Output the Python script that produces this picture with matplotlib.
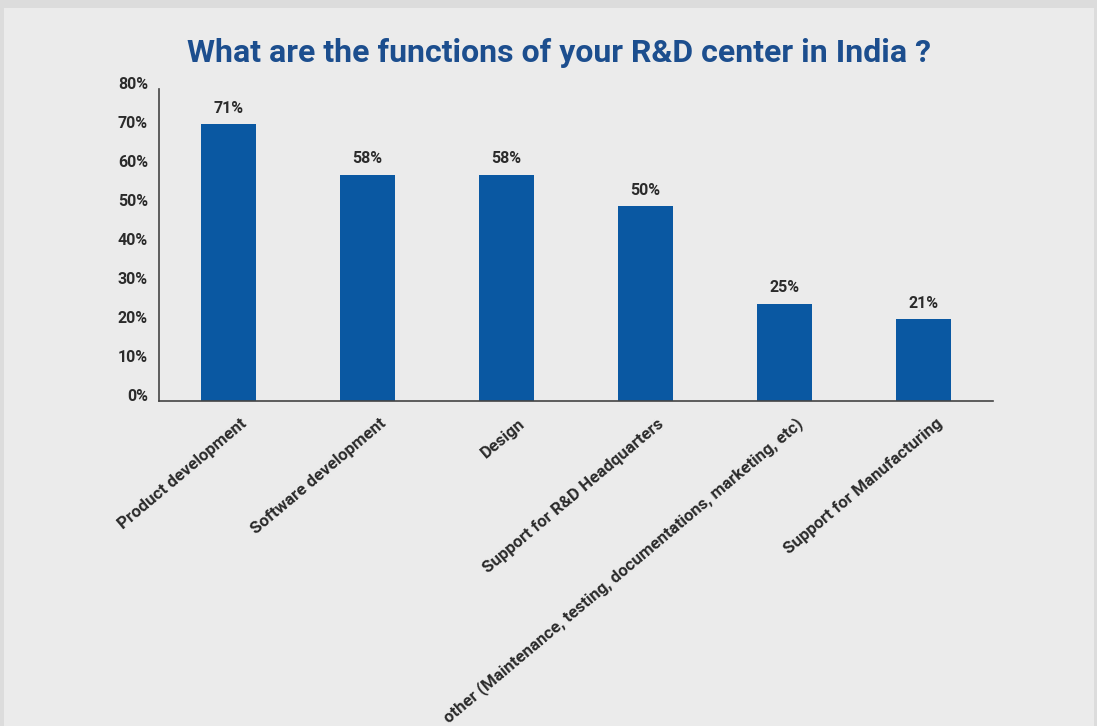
import matplotlib
matplotlib.use("Agg")
import matplotlib.pyplot as plt
from matplotlib.transforms import ScaledTranslation
from matplotlib.patches import Rectangle

categories = [
    "Product development",
    "Software development",
    "Design",
    "Support for R&D Headquarters",
    "other (Maintenance, testing, documentations, marketing, etc)",
    "Support for Manufacturing",
]
values = [71, 58, 58, 50, 25, 21]
y_ticks = [0, 10, 20, 30, 40, 50, 60, 70, 80]
title = "What are the functions of your R&D center in India ?"

BAR = "#0A58A2"
TITLE = "#1C4E8E"
TEXT = "#2B2B2B"
FONT = ["Roboto", "DejaVu Sans"]

W, H = 1097, 726
fig = plt.figure(figsize=(W / 100, H / 100), dpi=100)
fig.patch.set_facecolor("#DCDCDC")

# light panel behind the chart
fig.add_artist(Rectangle((4 / W, 0), 1 - 7 / W, 1 - 8 / H, transform=fig.transFigure,
                         facecolor="#EBEBEB", edgecolor="none", zorder=0))

left, right, top, bottom = 159, 993, 89, 401
ax = fig.add_axes([left / W, 1 - bottom / H, (right - left) / W, (bottom - top) / H])
ax.set_facecolor("none")

x = list(range(len(categories)))
bars = ax.bar(x, values, width=0.4, color=BAR, zorder=2)
ax.set_xlim(-0.5, len(categories) - 0.5)
ax.set_ylim(0, 80)

for rect, v in zip(bars, values):
    ax.annotate(f"{v}%", (rect.get_x() + rect.get_width() / 2, v),
                xytext=(0, 6), textcoords="offset points", ha="center", va="bottom",
                fontsize=11.5, fontweight="bold", color=TEXT, family=FONT)

for side in ("top", "right"):
    ax.spines[side].set_visible(False)
for side in ("left", "bottom"):
    ax.spines[side].set_color("#444444")
    ax.spines[side].set_linewidth(1.2)

ax.set_yticks(y_ticks)
ax.set_yticklabels([f"{t}%" for t in y_ticks], fontsize=11.5, fontweight="bold",
                   color=TEXT, family=FONT)
ax.tick_params(axis="y", length=0, pad=8)
for lbl in ax.get_yticklabels():
    lbl.set_transform(lbl.get_transform() + ScaledTranslation(0, 4 / 72, fig.dpi_scale_trans))

ax.set_xticks(x)
ax.set_xticklabels(categories, rotation=40, ha="right", va="center", rotation_mode="anchor",
                   fontsize=12.2, fontweight="semibold", color=TEXT, family=FONT)
ax.tick_params(axis="x", length=0, pad=15)
for lbl in ax.get_xticklabels():
    lbl.set_transform(lbl.get_transform() + ScaledTranslation(12 / 72, 0, fig.dpi_scale_trans))

fig.text(0.5 * (188 + 930) / W, 1 - 53 / H, title, ha="center", va="center",
         fontsize=23, fontweight="bold", color=TITLE, family=FONT)

fig.savefig("out.png", dpi=100, facecolor=fig.get_facecolor())
